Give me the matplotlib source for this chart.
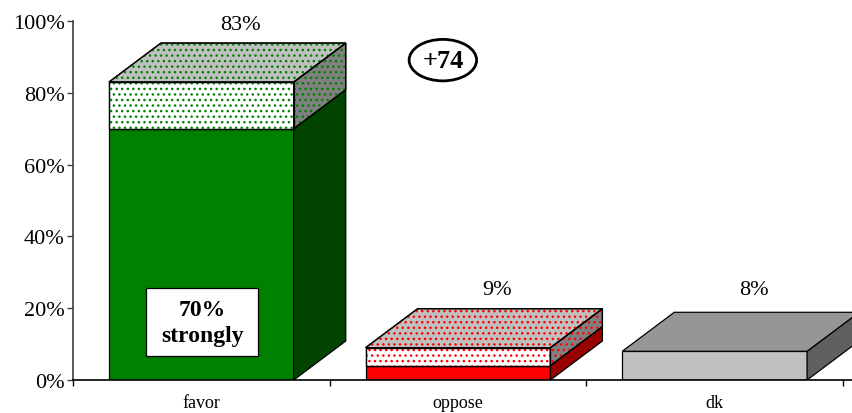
import numpy as np
import matplotlib.pyplot as plt
from matplotlib.patches import Polygon, Rectangle

plt.rcParams['font.family'] = ['Liberation Serif', 'DejaVu Serif']
plt.rcParams['hatch.linewidth'] = 1.0

# Data
categories = ['favor', 'oppose', 'dk']
strongly = [70, 4, 8]          # solid lower block (dk is one solid block)
not_strongly = [13, 5, 0]      # dotted upper block
total_labels = ['83%', '9%', '8%']
yticks = [0, 20, 40, 60, 80, 100]

# Styles per category
front_solid = ['#008000', '#ff0000', '#c0c0c0']
side_solid = ['#004400', '#990000', '#606060']
dot_color = ['#008000', '#ff0000', None]
top_color = ['#c0c0c0', '#c0c0c0', '#969696']
side_soft = '#808080'

width = 0.72
dx = 0.2026   # depth offset in x (category units)
dy = 10.86    # depth offset in y (percent)

fig = plt.figure(figsize=(8.52, 4.14), dpi=100)
ax = fig.add_axes([73 / 852, 33 / 414, 1 - 73 / 852, 359 / 414])

x = np.arange(len(categories)) + 0.5
ax.set_xlim(0, 779 / 256.67)
ax.set_ylim(0, 100)


def face(pts, fc, hatch_col=None):
    ax.add_patch(Polygon(pts, closed=True, facecolor=fc, edgecolor='black',
                         linewidth=0.9, zorder=2))
    if hatch_col:
        ax.add_patch(Polygon(pts, closed=True, facecolor='none', edgecolor=hatch_col,
                             hatch='...', linewidth=0, zorder=2.5))
        ax.add_patch(Polygon(pts, closed=True, facecolor='none', edgecolor='black',
                             linewidth=0.9, zorder=2.6))


for i in range(len(categories)):
    s = strongly[i]
    t = s + not_strongly[i]
    x0 = x[i] - width / 2
    x1 = x[i] + width / 2
    # front faces
    ax.bar(x[i], s, width, color=front_solid[i], edgecolor='black', linewidth=0.9, zorder=2)
    if not_strongly[i]:
        ax.bar(x[i], not_strongly[i], width, bottom=s, color='white',
               edgecolor='black', linewidth=0.9, zorder=2)
        ax.bar(x[i], not_strongly[i], width, bottom=s, color='none',
               edgecolor=dot_color[i], hatch='...', linewidth=0, zorder=2.5)
        ax.bar(x[i], not_strongly[i], width, bottom=s, color='none',
               edgecolor='black', linewidth=0.9, zorder=2.6)
    # side faces
    face([(x1, 0), (x1 + dx, dy), (x1 + dx, s + dy), (x1, s)], side_solid[i])
    if not_strongly[i]:
        face([(x1, s), (x1 + dx, s + dy), (x1 + dx, t + dy), (x1, t)], side_soft, dot_color[i])
    # top face
    face([(x0, t), (x0 + dx, t + dy), (x1 + dx, t + dy), (x1, t)], top_color[i], dot_color[i])
    # total label
    ax.text(x[i] + 0.75 * dx, max(t, 9) + dy + 5.3, total_labels[i], ha='center',
            va='center', fontsize=16, zorder=5)

# "70% strongly" box
ax.add_patch(Rectangle((0.283, 6.7), 0.436, 18.9, facecolor='white', edgecolor='black',
                       linewidth=0.9, zorder=4))
ax.text(0.503, 16.0, '70%\nstrongly', ha='center', va='center', fontsize=17,
        fontweight='bold', linespacing=1.3, zorder=5)

# net margin
ax.text(1.441, 89.1, '+74', ha='center', va='center', fontsize=19, fontweight='bold',
        bbox=dict(boxstyle='ellipse,pad=0.12', facecolor='white', edgecolor='black',
                  linewidth=2), zorder=5)

# axes styling
for sp in ['top', 'right']:
    ax.spines[sp].set_visible(False)
ax.spines['left'].set_color('#404040')
ax.spines['left'].set_linewidth(1.2)
ax.spines['bottom'].set_linewidth(1.2)

ax.set_yticks(yticks)
ax.set_yticklabels([f'{v}%' for v in yticks], fontsize=16)
ax.tick_params(axis='y', length=4, width=1, pad=2, color='#404040')

ax.set_xticks([0, 1, 2, 3])
ax.set_xticklabels([])
ax.tick_params(axis='x', which='major', length=4, width=1, direction='out')
ax.set_xticks(x, minor=True)
ax.set_xticklabels(categories, minor=True, fontsize=13)
ax.tick_params(axis='x', which='minor', length=0, pad=10)

fig.savefig('out.png', dpi=100)
